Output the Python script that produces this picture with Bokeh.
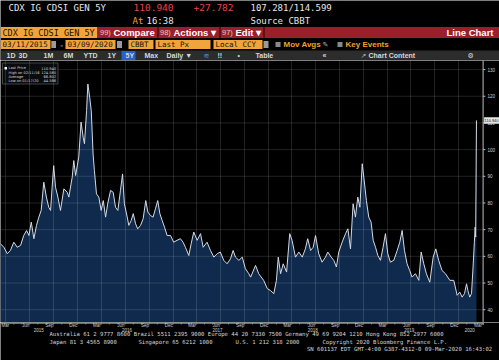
import pandas as pd
from bokeh.plotting import figure
from bokeh.models import Range1d, FixedTicker, Grid
from bokeh.layouts import column
from bokeh.core.properties import value
from bokeh.embed import file_html
from bokeh.resources import INLINE

# ---------------- data ----------------
dates = [
    "2015-03-11", "2015-03-24", "2015-04-06", "2015-04-18", "2015-05-01", "2015-05-14",
    "2015-05-27", "2015-06-08", "2015-06-19", "2015-06-28", "2015-07-07", "2015-07-17",
    "2015-07-27", "2015-08-05", "2015-08-14", "2015-08-24", "2015-09-03", "2015-09-12",
    "2015-09-19", "2015-09-25", "2015-10-01", "2015-10-08", "2015-10-17",
    "2015-10-27", "2015-11-09", "2015-11-22",
    "2015-11-28", "2015-12-11", "2015-12-17", "2015-12-24", "2016-01-05", "2016-01-14",
    "2016-01-22", "2016-01-27", "2016-02-04", "2016-02-09", "2016-02-16", "2016-02-22",
    "2016-02-29", "2016-03-05", "2016-03-13", "2016-03-22", "2016-03-31", "2016-04-08",
    "2016-04-17", "2016-04-25", "2016-05-06", "2016-05-16", "2016-05-25", "2016-06-03",
    "2016-06-13", "2016-06-21", "2016-06-28", "2016-07-09", "2016-07-15", "2016-07-24",
    "2016-08-01", "2016-08-10", "2016-08-18", "2016-08-29", "2016-09-08", "2016-09-18",
    "2016-09-26", "2016-10-06", "2016-10-16", "2016-10-25", "2016-11-03", "2016-11-11",
    "2016-11-20", "2016-11-29", "2016-12-09", "2016-12-22", "2017-01-03", "2017-01-16",
    "2017-01-29", "2017-02-08", "2017-02-17", "2017-03-02", "2017-03-11", "2017-03-21",
    "2017-04-03", "2017-04-16", "2017-04-26", "2017-05-11", "2017-05-24", "2017-06-06",
    "2017-06-19", "2017-07-01", "2017-07-14", "2017-07-27", "2017-08-09", "2017-08-19",
    "2017-08-28", "2017-09-10", "2017-09-23", "2017-10-05", "2017-10-18", "2017-10-25",
    "2017-11-13", "2017-11-25", "2017-12-14", "2017-12-28", "2018-01-09", "2018-01-22",
    "2018-02-01", "2018-02-08", "2018-02-17", "2018-02-27", "2018-03-12", "2018-03-24",
    "2018-04-02", "2018-04-15", "2018-04-28", "2018-05-11", "2018-05-23", "2018-06-01",
    "2018-06-12", "2018-06-22", "2018-07-01", "2018-07-13", "2018-07-26", "2018-08-08",
    "2018-08-17", "2018-08-30", "2018-09-09", "2018-09-19", "2018-09-28", "2018-10-11",
    "2018-10-24", "2018-11-02", "2018-11-12", "2018-11-22", "2018-12-01", "2018-12-10",
    "2018-12-18", "2018-12-27", "2019-01-02", "2019-01-12", "2019-01-21", "2019-01-30",
    "2019-02-07", "2019-02-16", "2019-02-25", "2019-03-07", "2019-03-17", "2019-03-26",
    "2019-04-04", "2019-04-14", "2019-04-27", "2019-05-10", "2019-05-20", "2019-05-29",
    "2019-06-07", "2019-06-17", "2019-06-27", "2019-07-06", "2019-07-19", "2019-08-01",
    "2019-08-10", "2019-08-20", "2019-08-30", "2019-09-12", "2019-09-25", "2019-10-05",
    "2019-10-16", "2019-10-29", "2019-11-11", "2019-11-28", "2019-12-13", "2019-12-26",
    "2020-01-05", "2020-01-14", "2020-01-23", "2020-01-31", "2020-02-05", "2020-02-12",
    "2020-02-19", "2020-02-25", "2020-03-01", "2020-03-04", "2020-03-06", "2020-03-09",
]
spread = [
    64.7, 63.4, 61.0, 62.2, 65.3, 63.4,
    64.1, 67.8, 69.7, 67.8, 72.8, 66.6,
    71.6, 74.7, 77.2, 87.8, 82.2, 78.4,
    77.2, 85.9, 94.0, 85.9, 82.2,
    77.2, 85.3, 84.0,
    82.2, 89.7, 95.9, 90.3, 97.2, 110.3,
    104.6, 102.2, 114.6, 124.6, 119.6, 114.6,
    98.4, 92.2, 83.4, 82.2, 77.2, 80.9,
    74.7, 79.7, 84.7, 84.0, 78.4, 77.2,
    84.7, 90.9, 79.7, 74.7, 71.6, 73.4,
    76.0, 72.2, 70.3, 71.6, 74.1, 80.9,
    76.6, 75.3, 74.7, 77.8, 80.9, 76.0,
    73.4, 70.9, 67.8, 67.8, 65.3, 66.0,
    66.6, 65.3, 63.4, 60.3, 64.7, 69.1,
    66.0, 68.5, 63.4, 65.3, 62.2, 59.7,
    61.0, 61.6, 58.5, 57.2, 59.1, 62.2,
    59.7, 58.5, 59.7, 55.4, 53.5, 52.2,
    56.6, 53.5, 51.0, 47.9, 47.2, 46.0,
    51.0, 59.7, 53.5, 57.2, 54.1, 68.5,
    66.0, 59.7, 61.6, 59.7, 62.8, 66.6,
    62.2, 63.4, 67.8, 61.0, 57.8, 59.7,
    61.6, 59.7, 58.5, 56.0, 61.6, 65.3,
    68.5, 70.3, 62.8, 79.7, 74.7, 82.2,
    78.4, 94.7, 89.7, 80.9, 74.7, 72.8,
    66.0, 63.4, 60.3, 58.5, 63.4, 68.5,
    61.0, 57.8, 58.5, 62.2, 65.3, 69.7,
    62.2, 57.2, 54.7, 52.2, 53.5, 51.0,
    61.6, 57.2, 53.5, 50.3, 59.7, 62.8,
    58.5, 54.7, 53.5, 51.0, 51.0, 45.4,
    46.6, 44.7, 46.0, 49.7, 47.2, 44.7,
    46.0, 56.0, 65.3, 71.0, 67.2, 110.94,
]

month_label_dates = [
    "2015-03-15", "2015-06-15", "2015-09-15", "2015-12-15",
    "2016-03-15", "2016-06-15", "2016-09-15", "2016-12-15",
    "2017-03-15", "2017-06-15", "2017-09-15", "2017-12-15",
    "2018-03-15", "2018-06-15", "2018-09-15", "2018-12-15",
    "2019-03-15", "2019-06-15", "2019-09-15", "2019-12-15",
    "2020-03-15",
]
month_labels = ["Mar", "Jun", "Sep", "Dec"] * 5 + ["Mar"]
year_label_dates = ["2015-08-05", "2016-07-08", "2017-06-20", "2018-06-20", "2019-06-25", "2020-02-12"]
year_labels = ["2015", "2016", "2017", "2018", "2019", "2020"]
y_ticks = [40, 50, 60, 70, 80, 90, 100, 110, 120, 130]
y_tick_labels = [str(v) for v in y_ticks]

last_price = 110.94
last_price_label = "110.940"
legend_rows = [("Last Price", "110.940"), ("High on 02/11/16", "124.580"),
               ("Average", "66.802"), ("Low on 01/17/20", "44.586")]

# ---------------- helpers ----------------
BG = "#000000"
ORANGE = "#f1a43c"
RED = "#98202a"
AMBER = "#f0a030"
WHITE = "#e6e6e6"
AXC = "#cfcfcf"
W = 499
AXIS_X = 482.6        # where the price scale sits (px of the 499-wide page)


def ms(d):
    return float(pd.Timestamp(d).value // 10**6)


def T(fig, x, y, s, color, size, font="DejaVu Sans Mono", align="left", style="normal", **kw):
    fig.text(x=[x], y=[y], text=[s], text_color=color, text_font=value(font),
             text_font_size=value(size), text_align=align, text_baseline="middle",
             text_font_style=style, **kw)


def Q(fig, l, r, t, b, color, **kw):
    fig.quad(left=[l], right=[r], top=[t], bottom=[b], fill_color=color, line_color=None, **kw)


def bare(w, h, xr, yr, **kw):
    f = figure(width=w, height=h, x_range=xr, y_range=yr, output_backend="svg",
               toolbar_location=None, x_axis_location=None, y_axis_location=None,
               background_fill_color=BG, border_fill_color=BG, min_border=0, **kw)
    f.grid.visible = False
    f.outline_line_color = None
    return f


# ---------------- header ----------------
h = bare(W, 60, Range1d(0, W), Range1d(60, 0))
T(h, 8, 7, "CDX IG CDSI GEN 5Y", WHITE, "9px")
T(h, 133, 7, "110.940", "#e4444f", "9.5px")
T(h, 193, 7, "+27.782", "#e4444f", "9.5px")
T(h, 250, 7, "107.281/114.599", WHITE, "9px")
T(h, 132, 20, "At", AMBER, "9px")
T(h, 146, 20, "16:38", WHITE, "9px")
T(h, 250, 20, "Source CBBT", WHITE, "9px")
# row 3
Q(h, 0, 97, 26.5, 37.5, ORANGE)
Q(h, 97, W, 26.5, 37.5, RED)
for sx in (157.5, 219.5, 263.5):
    Q(h, sx - 0.7, sx + 0.7, 26.5, 37.5, "#4a0a10")
T(h, 2, 32, "CDX IG CDSI GEN 5Y", "#1a1208", "8.5px")
T(h, 99.5, 32, "99)", "#f2c4c4", "7.5px", font="Liberation Sans")
T(h, 113, 32, "Compare", "#ffffff", "9.5px", font="Liberation Sans", style="bold")
T(h, 159.5, 32, "98)", "#f2c4c4", "7.5px", font="Liberation Sans")
T(h, 173, 32, "Actions \u25be", "#ffffff", "9.5px", font="Liberation Sans", style="bold")
T(h, 221.5, 32, "97)", "#f2c4c4", "7.5px", font="Liberation Sans")
T(h, 235, 32, "Edit \u25be", "#ffffff", "9.5px", font="Liberation Sans", style="bold")
T(h, 493, 32, "Line Chart", "#ffffff", "9.5px", font="Liberation Sans", align="right", style="bold")
# row 4
for l, r in ((0, 50), (65, 115), (128, 153), (155, 210), (213, 262)):
    Q(h, l, r, 39.5, 48.5, ORANGE)
for l, r in ((50.8, 55.5), (116.5, 121.5), (263, 268)):
    Q(h, l, r, 40.5, 47.5, "#9a9a9a")
T(h, 2, 44, "03/11/2015", "#1a1208", "7.5px")
T(h, 59, 44, "-", WHITE, "7.5px")
T(h, 67, 44, "03/09/2020", "#1a1208", "7.5px")
T(h, 130, 44, "CBBT", "#1a1208", "7.5px")
T(h, 157, 44, "Last Px", "#1a1208", "7.5px")
T(h, 215, 44, "Local CCY", "#1a1208", "7.5px")
Q(h, 275, 280, 41.5, 46.5, "#8a8a8a")
T(h, 283, 44, "Mov Avgs", AMBER, "8px", font="Liberation Sans", style="bold")
T(h, 322, 44, "\u270e", "#bbbbbb", "7px", font="DejaVu Sans")
Q(h, 337, 342, 41.5, 46.5, "#8a8a8a")
T(h, 345, 44, "Key Events", AMBER, "8px", font="Liberation Sans", style="bold")
# row 5
Q(h, 0, W, 50, 60, "#2c2c2c")
Q(h, 121, 135, 50.5, 59.5, "#2a62c4")
for x, s in ((6, "1D"), (18, "3D"), (43, "1M"), (63, "6M"), (83, "YTD"), (107, "1Y"),
             (125, "5Y"), (144, "Max"), (166, "Daily \u25bc"), (217, "!!"), (237, "\u2022"),
             (255, "Table"), (322, "\u00ab"), (368, "Chart Content")):
    T(h, x, 55, s, "#d8d8d8", "7px", font="Liberation Sans", style="bold")
T(h, 203, 55, "\u224b", "#5b8fe0", "7px", font="DejaVu Sans")
T(h, 360, 55, "\u2197", "#bbbbbb", "7px", font="DejaVu Sans")
T(h, 467, 55, "\u2699", "#d8d8d8", "7px", font="DejaVu Sans")

# ---------------- chart ----------------
# time scale: 2015-03-11 at the left edge, 2020-04-05 at the price scale (x = 483 of 499)
t0, t_axis = pd.Timestamp("2015-03-11"), pd.Timestamp("2020-04-05")
t_full = t0 + (t_axis - t0) * (W / 483.0)
x = pd.to_datetime(dates)
p = bare(W, 262, Range1d(t0, t_full), Range1d(35.2, 133.4), x_axis_type="datetime")
p.extra_x_ranges = {"px": Range1d(0, W)}
p.extra_y_ranges = {"py": Range1d(322, 60)}

quarter_starts = [ms(d) for d in pd.date_range("2015-04-01", "2020-01-01", freq="QS")]
month_starts = [ms(d) for d in pd.date_range("2015-04-01", "2020-03-01", freq="MS")]
p.add_layout(Grid(dimension=0, ticker=FixedTicker(ticks=quarter_starts), grid_line_color="#ffffff",
                  grid_line_alpha=0.13, grid_line_width=1, level="annotation"))

p.varea(x=x, y1=0, y2=spread, fill_color="#0f2a4c")
p.line(x=x, y=spread, line_color="#d4dae3", line_width=1)

n = len(y_ticks)
# horizontal grid lines, stopping at the price scale
p.segment(x0=[0] * n, x1=[AXIS_X] * n, y0=y_ticks, y1=y_ticks, x_range_name="px",
          line_color="#ffffff", line_alpha=0.13, line_width=1)
# price scale on the right
p.segment(x0=[AXIS_X], x1=[AXIS_X], y0=[60], y1=[322], x_range_name="px", y_range_name="py",
          line_color="#bdbdbd", line_width=1)
p.segment(x0=[AXIS_X] * n, x1=[AXIS_X + 2.2] * n, y0=y_ticks, y1=y_ticks, x_range_name="px",
          line_color="#bdbdbd", line_width=1)
p.text(x=[487] * n, y=y_ticks, text=y_tick_labels, x_range_name="px", text_color=AXC,
       text_font=value("Liberation Sans"), text_font_size=value("4.6px"), text_baseline="middle")
# last-price tag
p.quad(left=[483.6], right=[W], top=[last_price + 1.2], bottom=[last_price - 1.2],
       x_range_name="px", fill_color="#e6e6e6", line_color=None)
p.text(x=[484.1], y=[last_price], text=[last_price_label], x_range_name="px", text_color="#111111",
       text_font=value("Liberation Sans"), text_font_size=value("3.9px"), text_baseline="middle")

# legend box (upper left)
p.quad(left=[2], right=[57.5], top=[62.5], bottom=[83.5], x_range_name="px", y_range_name="py",
       fill_color="#0a0d12", fill_alpha=0.85, line_color="#6a6a6a", line_width=0.6)
p.quad(left=[4], right=[6.5], top=[66.5], bottom=[69], x_range_name="px", y_range_name="py",
       fill_color="#ffffff", line_color=None)
for i, (name, val) in enumerate(legend_rows):
    yy = 67.8 + i * 4.2
    p.text(x=[8], y=[yy], text=[name], x_range_name="px", y_range_name="py",
           text_color="#d6d6d6", text_font=value("DejaVu Sans"), text_font_size=value("3.6px"),
           text_baseline="middle")
    p.text(x=[55.5], y=[yy], text=[val], x_range_name="px", y_range_name="py",
           text_color="#d6d6d6", text_font=value("DejaVu Sans"), text_font_size=value("3.6px"),
           text_baseline="middle", text_align="right")

# ---------------- time axis + footer ----------------
f = bare(W, 38, Range1d(t0, t_full), Range1d(360, 322), x_axis_type="datetime")
f.extra_x_ranges = {"px": Range1d(0, W)}
f.segment(x0=[0], x1=[AXIS_X], y0=[322.6], y1=[322.6], x_range_name="px",
          line_color="#bdbdbd", line_width=1)
f.segment(x0=[AXIS_X], x1=[AXIS_X], y0=[322], y1=[324.5], x_range_name="px",
          line_color="#bdbdbd", line_width=1)
mst = pd.to_datetime(month_starts, unit="ms")
f.segment(x0=mst, x1=mst, y0=[322.6] * len(mst), y1=[324.0] * len(mst),
          line_color="#9a9a9a", line_width=0.8)
md = pd.to_datetime(month_label_dates)
f.text(x=md[:1], y=[325.3], text=month_labels[:1], text_color=AXC, text_font=value("Liberation Sans"),
       text_font_size=value("4.5px"), text_align="left", text_baseline="middle")
f.text(x=md[1:], y=[325.3] * (len(md) - 1), text=month_labels[1:], text_color=AXC,
       text_font=value("Liberation Sans"), text_font_size=value("4.5px"),
       text_align="center", text_baseline="middle")
f.text(x=pd.to_datetime(year_label_dates), y=[329.3] * len(year_labels), text=year_labels,
       text_color=AXC, text_font=value("Liberation Sans"), text_font_size=value("4.5px"),
       text_align="center", text_baseline="middle")

FC = "#d6d6d6"
FK = dict(x_range_name="px")
T(f, 49, 333.5, "Australia 61 2 9777 8600 Brazil 5511 2395 9000 Europe 44 20 7330 7500 "
      "Germany 49 69 9204 1210 Hong Kong 852 2977 6000", FC, "5.6px", **FK)
T(f, 49, 341.3, "Japan 81 3 4565 8900", FC, "5.6px", **FK)
T(f, 138, 341.3, "Singapore 65 6212 1000", FC, "5.6px", **FK)
T(f, 235, 341.3, "U.S. 1 212 318 2000", FC, "5.6px", **FK)
T(f, 322, 341.3, "Copyright 2020 Bloomberg Finance L.P.", FC, "5.6px", **FK)
T(f, 495, 348.5, "SN 601137 EDT  GMT-4:00 G387-4312-0 09-Mar-2020 16:43:02", FC, "5.6px",
  align="right", **FK)

layout = column(h, p, f, spacing=0)
open("out.html", "w").write(file_html(layout, INLINE))
